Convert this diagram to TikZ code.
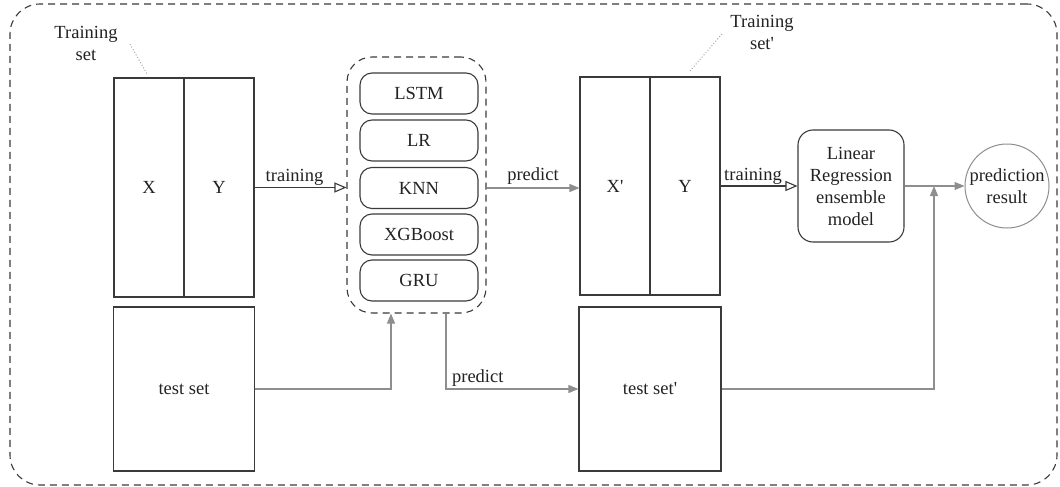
\documentclass[tikz,border=0pt]{standalone}
\usepackage{fontspec}
\setmainfont{Liberation Serif}[Ligatures=TeXOff]
\usetikzlibrary{arrows.meta,positioning}
\definecolor{dline}{HTML}{3A3A3A}
\definecolor{gline}{HTML}{8E8E8E}
\definecolor{dotc}{HTML}{A8A8A8}
\definecolor{txt}{HTML}{222222}
\tikzset{
  every node/.style={font=\fontsize{18.5}{22}\selectfont, text=txt},
  cell/.style={draw=dline, line width=1.1pt, inner sep=0pt},
  model/.style={draw=dline, line width=1.1pt, rounded corners=12pt, minimum width=118pt, minimum height=41pt, inner sep=0pt},
  grayarrow/.style={draw=gline, line width=1.1pt, -{Triangle[length=10pt,width=8pt]}},
  openarrow/.style={draw=dline, line width=1.1pt, -{Triangle[open,length=12pt,width=10pt,line width=1.1pt]}},
  dotline/.style={draw=dotc, line width=1pt, dotted},
  lbl/.style={inner sep=1pt}
}
\begin{document}
\begin{tikzpicture}[x=1pt,y=-1pt]
\useasboundingbox (0,0) rectangle (1060,487);
% outer frame
\node[draw=dline, line width=1.1pt, dash pattern=on 7pt off 5pt, rounded corners=30pt, minimum width=1047pt, minimum height=481pt, inner sep=0pt] (frame) at (533.5,244.5) {};

% training set
\node[cell, minimum width=70pt, minimum height=219pt] (x) at (149,187.5) {X};
\node[cell, minimum width=70pt, minimum height=219pt] (y) at (219,187.5) {Y};
\node[cell, minimum width=141pt, minimum height=164pt] (test) at (184,389) {test set};
\node[align=center, lbl] (tslbl) at (86,43) {Training\\set};
\draw[dotline] (130,44) -- (147,74);

% ensemble
\node[draw=dline, line width=1.1pt, dash pattern=on 7pt off 5pt, rounded corners=25pt, minimum width=139pt, minimum height=256pt, inner sep=0pt] (ens) at (416.5,185) {};
\node[model] (lstm) at (419,93.5) {LSTM};
\node[model] (lr) at (419,140.5) {LR};
\node[model] (knn) at (419,188) {KNN};
\node[model] (xgb) at (419,234.5) {XGBoost};
\node[model] (gru) at (419,280.5) {GRU};

% second training set
\node[cell, minimum width=70pt, minimum height=218pt] (xp) at (615,186) {X'};
\node[cell, minimum width=70pt, minimum height=218pt] (yp) at (685,186) {Y};
\node[cell, minimum width=142pt, minimum height=164pt] (testp) at (650,389) {test set'};
\node[align=center, lbl] (tsplbl) at (762,32) {Training\\set'};
\draw[dotline] (722,34) -- (690,71);

% linear regression and result
\node[draw=dline, line width=1.1pt, rounded corners=15pt, minimum width=106pt, minimum height=112pt, align=center, inner sep=0pt] (lin) at (851,186) {Linear\\Regression\\ensemble\\model};
\node[draw=gline, line width=1pt, circle, minimum size=84pt, inner sep=0pt, align=center] (res) at (1007,186) {prediction\\result};
\coordinate (join) at (934,186);

% connectors
\draw[openarrow] (y.east) -- node[above, lbl, xshift=-6pt] {training} (ens.west |- y.east);
\draw[grayarrow] (ens.east |- knn.center) -- node[above, lbl, yshift=2pt] {predict} (xp.west |- knn.center);
\draw[grayarrow] (test.east) -| ([xshift=-25.5pt]ens.south);
\draw[grayarrow] ([xshift=29.5pt]ens.south) |- node[pos=0.62, above, lbl, yshift=1pt] {predict} (testp.west);
\draw[openarrow] (yp.east) -- node[above, lbl, xshift=-6pt] {training} (lin.west);
\draw[grayarrow] (lin.east) -- (res.west);
\draw[grayarrow] (testp.east) -| (join);
\end{tikzpicture}
\end{document}
